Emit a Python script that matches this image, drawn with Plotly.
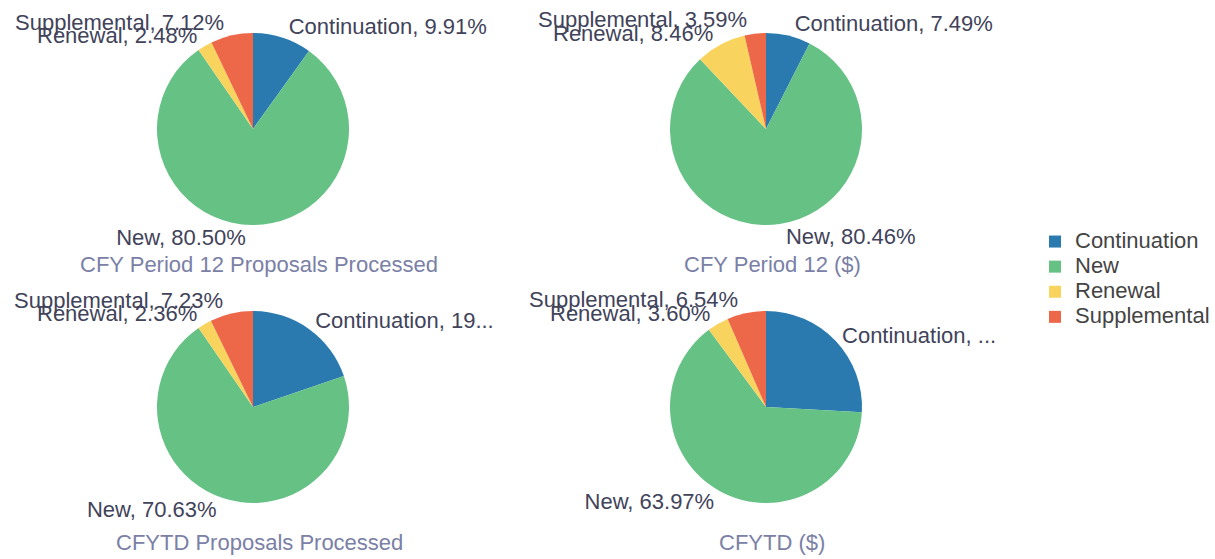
import math
import plotly.graph_objects as go

W, H = 1215, 559

categories = ["Continuation", "New", "Renewal", "Supplemental"]
colors = ["#2a7ab0", "#66c185", "#f8d45e", "#ed6749"]

titles = ["CFY Period 12 Proposals Processed", "CFY Period 12 ($)",
          "CFYTD Proposals Processed", "CFYTD ($)"]

p1_values = [9.91, 80.50, 2.48, 7.12]
p2_values = [7.49, 80.46, 8.46, 3.59]
p3_values = [19.78, 70.63, 2.36, 7.23]
p4_values = [25.89, 63.97, 3.60, 6.54]

p1_text = ["Continuation, 9.91%", "New, 80.50%", "Renewal, 2.48%", "Supplemental, 7.12%"]
p2_text = ["Continuation, 7.49%", "New, 80.46%", "Renewal, 8.46%", "Supplemental, 3.59%"]
p3_text = ["Continuation, 19...", "New, 70.63%", "Renewal, 2.36%", "Supplemental, 7.23%"]
p4_text = ["Continuation, ...", "New, 63.97%", "Renewal, 3.60%", "Supplemental, 6.54%"]

all_values = [p1_values, p2_values, p3_values, p4_values]
all_text = [p1_text, p2_text, p3_text, p4_text]

# layout geometry (pixel centres of pie areas)
centers = [(253, 129), (766, 129), (253, 407), (766, 407)]
R = 96
title_y = [264, 264, 542, 542]
TITLE_DX = 6
FONT = "Liberation Sans, Arial, sans-serif"
LABEL_COLOR = "#41435a"
TEXT_H = 28

# legend entries: large text with compact row spacing
legend_labels = [f"<span style='font-size:22px'>{c}</span>" for c in categories]

fig = go.Figure()
for i, (vals, txt) in enumerate(zip(all_values, all_text)):
    cx, cy = centers[i]
    dx = (cx - 120) / W, (cx + 120) / W
    yc = 1 - cy / H
    dy = (yc - R / H, yc + R / H)
    fig.add_trace(go.Pie(
        labels=legend_labels,
        values=vals,
        text=txt,
        textinfo="text",
        textposition=["outside", "outside", "none", "none"],
        sort=False,
        direction="clockwise",
        rotation=0,
        marker=dict(colors=colors, line=dict(width=0)),
        outsidetextfont=dict(size=22, color=LABEL_COLOR, family=FONT),
        domain=dict(x=list(dx), y=list(dy)),
        showlegend=(i == 0),
        customdata=categories,
        hovertemplate="%{customdata}: %{percent}<extra></extra>",
        automargin=False,
    ))
    # outside labels for the small slices, placed like the pie's own outside
    # text but without being pushed apart (they overlap in the original)
    total = sum(vals)
    cum = 0.0
    for j, v in enumerate(vals):
        mid = (cum + v / 2) / total * 2 * math.pi
        cum += v
        if j < 2:
            continue
        px = R * math.sin(mid)
        py = -R * math.cos(mid)
        hh = TEXT_H / 2 * (1 if py >= 0 else -1)
        ty = hh / (1 + px * px / (py * py))
        ex = cx + px + (TEXT_H / 4) * (1 if px >= 0 else -1)
        fig.add_annotation(
            x=ex / W, y=1 - (cy + py + ty) / H, xref="paper", yref="paper",
            text=txt[j], showarrow=False,
            xanchor="left" if px >= 0 else "right", yanchor="middle",
            borderpad=0,
            font=dict(size=22, color=LABEL_COLOR, family=FONT),
        )
    fig.add_annotation(
        x=(cx + TITLE_DX) / W, y=1 - title_y[i] / H, xref="paper", yref="paper",
        text=titles[i], showarrow=False, xanchor="center", yanchor="middle",
        font=dict(size=22, color="#7b80a6", family=FONT),
    )

fig.update_layout(
    width=W, height=H,
    margin=dict(l=0, r=0, t=0, b=0),
    paper_bgcolor="white",
    plot_bgcolor="white",
    font=dict(family=FONT, size=22, color="#444444"),
    legend=dict(
        x=1.0, y=0.5, xanchor="right", yanchor="middle",
        font=dict(size=17, color="#444444", family=FONT),
        traceorder="normal",
    ),
)

fig.write_html("out.html", config={"displayModeBar": False},
               post_script="document.body.style.margin='0';")
